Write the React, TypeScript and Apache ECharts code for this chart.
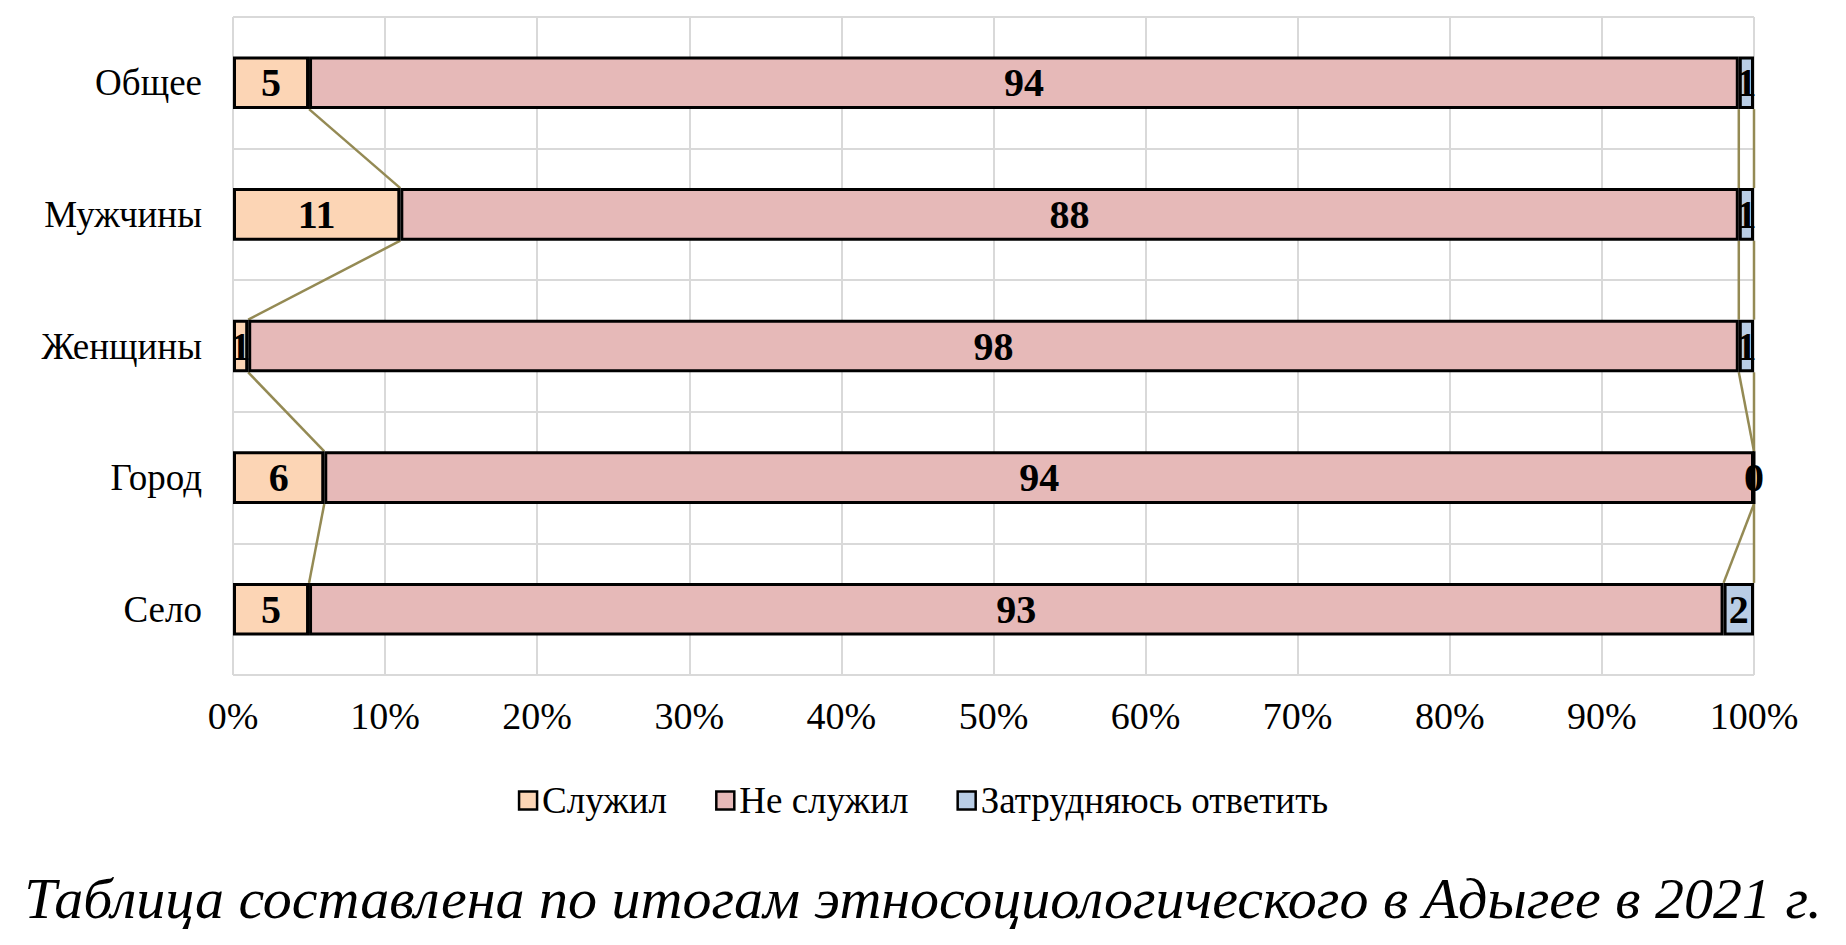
import React, { useEffect, useRef } from "react";
import * as echarts from "echarts";

const categories = ["Общее", "Мужчины", "Женщины", "Город", "Село"];
const seriesNames = ["Служил", "Не служил", "Затрудняюсь ответить"];
const served = [5, 11, 1, 6, 5];
const notServed = [94, 88, 98, 94, 93];
const unsure = [1, 1, 1, 0, 2];
const xTicks = [0, 10, 20, 30, 40, 50, 60, 70, 80, 90, 100];
const caption = "Таблица составлена по итогам этносоциологического в Адыгее в 2021 г.";

const colors = ["#FCD5B5", "#E6B9B8", "#B9CDE5"];
const FONT = "Liberation Serif";

export default function App() {
  const ref = useRef<HTMLDivElement>(null);
  useEffect(() => {
    if (!ref.current) return;
    const chart = echarts.init(ref.current, null, { renderer: "svg" });
    const values = [served, notServed, unsure];
    const cum: number[][] = [];
    values.forEach((arr, s) => {
      cum.push(arr.map((v, i) => (s === 0 ? v : cum[s - 1][i] + v)));
    });
    const lineData: number[][] = [];
    cum.forEach((arr) => {
      for (let i = 0; i < arr.length - 1; i++) {
        lineData.push([arr[i], i, arr[i + 1], i + 1]);
      }
    });
    const barFrac = 0.4;
    const barSeries = values.map((arr, s) => ({
      name: seriesNames[s],
      type: "bar",
      stack: "total",
      barWidth: "40%",
      data: arr,
      itemStyle: { color: colors[s], borderColor: "#000", borderWidth: 3 },
      label: {
        show: true,
        position: "inside",
        color: "#000",
        fontFamily: FONT,
        fontWeight: "bold",
        fontSize: 40,
      },
      z: 3,
    }));
    chart.setOption({
      animation: false,
      textStyle: { fontFamily: FONT },
      title: {
        text: caption,
        left: "center",
        top: 864,
        textStyle: {
          fontFamily: FONT,
          fontStyle: "italic",
          fontWeight: "normal",
          fontSize: 58,
          color: "#000",
        },
      },
      legend: {
        data: seriesNames,
        left: "center",
        top: 777,
        icon: "rect",
        itemWidth: 18,
        itemHeight: 18,
        itemGap: 48,
        itemStyle: { borderColor: "#000", borderWidth: 2.5 },
        textStyle: { fontFamily: FONT, fontSize: 37, color: "#000" },
      },
      grid: { left: 233, right: 92, top: 17, bottom: 270, containLabel: false },
      xAxis: {
        type: "value",
        min: 0,
        max: 100,
        interval: 10,
        axisLine: { show: false },
        axisTick: { show: false },
        splitLine: { show: true, lineStyle: { color: "#D9D9D9", width: 2 } },
        axisLabel: {
          formatter: (v: number) => (xTicks.includes(v) ? v + "%" : ""),
          fontFamily: FONT,
          fontSize: 38,
          color: "#000",
          margin: 22,
        },
      },
      yAxis: {
        type: "category",
        data: categories,
        inverse: true,
        axisLine: { show: false },
        axisTick: { show: false },
        splitLine: { show: true, lineStyle: { color: "#D9D9D9", width: 2 } },
        axisLabel: { fontFamily: FONT, fontSize: 37, color: "#000", margin: 31 },
      },
      series: [
        ...barSeries,
        {
          type: "custom",
          name: "lines",
          silent: true,
          z: 1,
          data: lineData,
          encode: { x: [0, 2], y: [1, 3] },
          renderItem: (params: any, api: any) => {
            const p1 = api.coord([api.value(0), api.value(1)]);
            const p2 = api.coord([api.value(2), api.value(3)]);
            const band = api.size([0, 1])[1];
            const half = (band * barFrac) / 2;
            return {
              type: "line",
              shape: { x1: p1[0], y1: p1[1] + half, x2: p2[0], y2: p2[1] - half },
              style: { stroke: "#948A54", lineWidth: 2.5 },
            };
          },
        },
      ],
    });
    return () => chart.dispose();
  }, []);
  return (
    <div
      ref={ref}
      style={{ position: "fixed", left: 0, top: 0, width: 1846, height: 945, background: "#fff" }}
    />
  );
}
